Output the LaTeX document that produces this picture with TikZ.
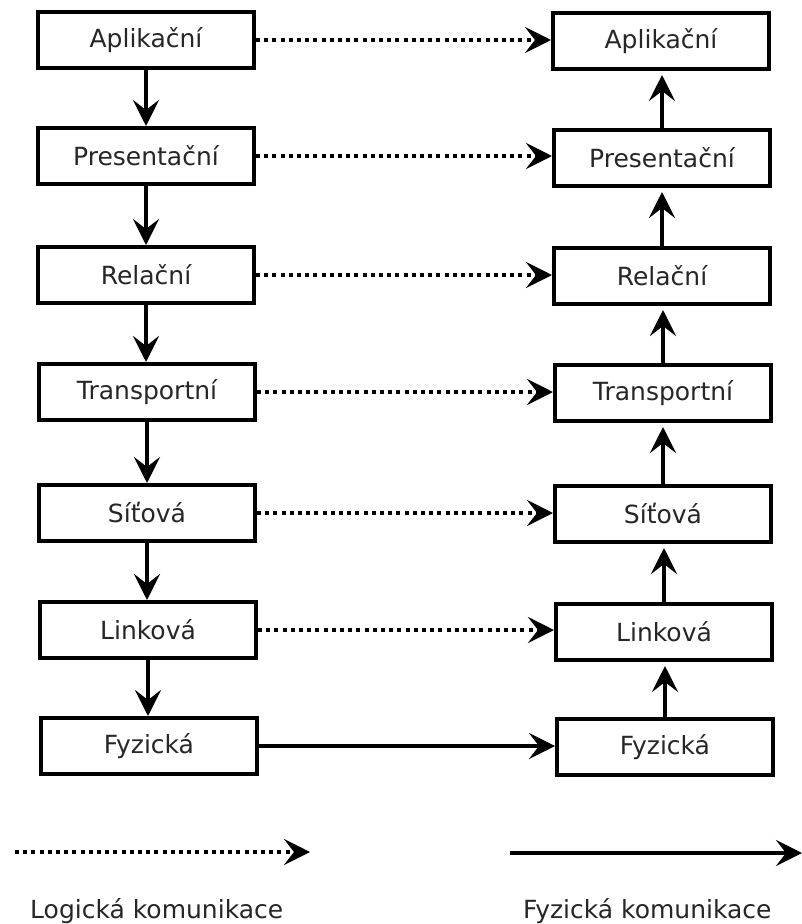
\documentclass[tikz,border=0pt]{standalone}
\usepackage{fontspec}
\setmainfont{DejaVu Sans}
\usetikzlibrary{arrows.meta}
\begin{document}
\begin{tikzpicture}[x=1pt,y=-1pt,
  layer/.style={draw, line width=4pt, minimum width=216pt, minimum height=56pt,
    inner sep=0pt, font=\fontsize{25}{29}\selectfont, text=black!85},
  tipx/.style={-{Stealth[length=26pt,width=26pt,inset=10pt]}},
  logic/.style={tipx, line width=4pt, dash pattern=on 4pt off 4.2pt},
  phys/.style={tipx, line width=4pt},
  legendtext/.style={anchor=base west, inner sep=0pt, font=\fontsize{25}{29}\selectfont, text=black!85},
]
\useasboundingbox (0,0) rectangle (802,924);
\fill[white] (0,0) rectangle (802,924);

% left stack
\node[layer] (l1) at (146,40)  {Aplikační};
\node[layer] (l2) at (146,156) {Presentační};
\node[layer] (l3) at (146,275) {Relační};
\node[layer] (l4) at (147,392) {Transportní};
\node[layer] (l5) at (147,513) {Síťová};
\node[layer] (l6) at (148,630) {Linková};
\node[layer] (l7) at (149,746) {Fyzická};

% right stack
\node[layer] (r1) at (661,41)  {Aplikační};
\node[layer] (r2) at (662,158) {Presentační};
\node[layer] (r3) at (662,276) {Relační};
\node[layer] (r4) at (663,393) {Transportní};
\node[layer] (r5) at (663,514) {Síťová};
\node[layer] (r6) at (664,632) {Linková};
\node[layer] (r7) at (665,747) {Fyzická};

% downward arrows on the left
\foreach \a/\b in {l1/l2,l2/l3,l3/l4,l4/l5,l5/l6,l6/l7}
  \draw[phys] (\a.south) -- (\a.south |- \b.north);

% upward arrows on the right
\foreach \a/\b in {r7/r6,r6/r5,r5/r4,r4/r3,r3/r2,r2/r1}
  \draw[phys, shorten >=4pt] (\a.north) -- (\a.north |- \b.south);

% logical communication
\foreach \i in {1,...,6}
  \draw[logic] (l\i.east) -- (l\i.east -| r\i.west);

% physical communication
\draw[phys] (l7.east) -- (l7.east -| r7.west);

% legend
\coordinate (ld1) at (15,852);
\coordinate (ld2) at (310,852);
\coordinate (lp1) at (510,853);
\coordinate (lp2) at (802,853);
\draw[logic] (ld1) -- (ld2);
\draw[phys] (lp1) -- (lp2);
\node[legendtext] (t1) at (30,918) {Logická komunikace};
\node[legendtext] (t2) at (523,918) {Fyzická komunikace};
\end{tikzpicture}
\end{document}
